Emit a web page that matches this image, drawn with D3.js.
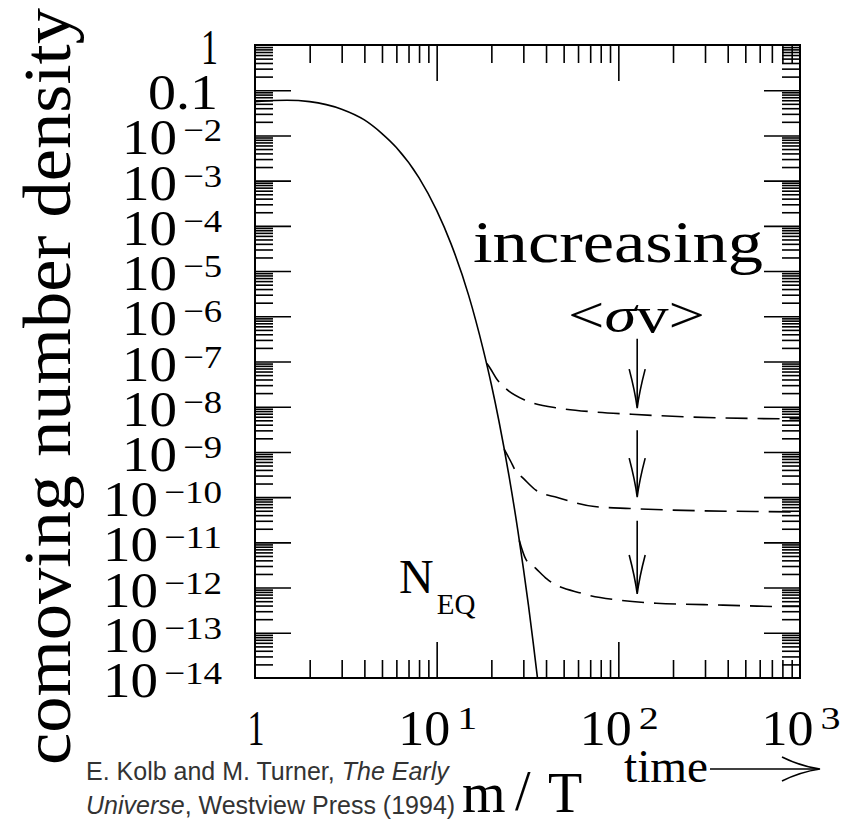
<!DOCTYPE html>
<html>
<head>
<meta charset="utf-8">
<script src="https://cdn.jsdelivr.net/npm/d3@7"></script>
<style>
  body { margin: 0; background: #fff; }
  svg { display: block; }
</style>
</head>
<body>
<svg id="chart" width="852" height="826"></svg>
<script>
// ---- data (m/T, comoving number density) ----
const eqMT = [1, 1.5, 2, 3, 4, 5, 6, 8, 10, 12, 15, 18, 20, 22, 25, 28, 30, 32, 34, 36];
const eqN  = [5.6e-2, 6.0e-2, 5.6e-2, 3.8e-2, 2.2e-2, 1.1e-2, 5.4e-3, 1.15e-3, 2.2e-4, 4.0e-5,
              2.9e-6, 1.9e-7, 3.1e-8, 4.9e-9, 3.0e-10, 1.8e-11, 2.7e-12, 4.1e-13, 6.0e-14, 9.0e-15];

const fo1MT = [18.9, 19.7, 21.5, 23.8, 30.6, 48.8, 76, 118.5, 228, 530, 1000];
const fo1N  = [9.0e-8, 7.1e-8, 4.0e-8, 2.6e-8, 1.4e-8, 9.1e-9, 7.6e-9, 6.8e-9, 6.0e-9, 5.5e-9, 5.4e-9];

const fo2MT = [23.5, 25.5, 27.1, 30, 35.4, 46.2, 73.9, 115.6, 276.6, 600, 1000];
const fo2N  = [1.15e-9, 6.3e-10, 3.9e-10, 2.6e-10, 1.4e-10, 9.8e-11, 6.2e-11, 5.6e-11, 5.0e-11, 4.8e-11, 4.7e-11];

const fo3MT = [28.5, 30.9, 35, 40.4, 63.2, 103.4, 161.8, 378, 808, 1000];
const fo3N  = [1.1e-11, 4.3e-12, 2.7e-12, 1.55e-12, 7.4e-13, 5.2e-13, 4.5e-13, 4.1e-13, 3.8e-13, 3.8e-13];

// "increasing <σv>" arrows: [top, tip] at m/T = 127
const arrowMT = 127;
const arrowTop = [3.2e-7, 3.0e-9, 3.0e-11];
const arrowTip = [9.3e-9, 1.0e-10, 7.2e-13];

// tick labels
const xTickValues = [1, 10, 100, 1000];
const xTickBase   = ["1", "10", "10", "10"];
const xTickSup    = ["", "1", "2", "3"];

const yTickValues = [1, 1e-1, 1e-2, 1e-3, 1e-4, 1e-5, 1e-6, 1e-7, 1e-8, 1e-9, 1e-10, 1e-11, 1e-12, 1e-13, 1e-14];
const yTickBase   = ["1", "0.1", "10", "10", "10", "10", "10", "10", "10", "10", "10", "10", "10", "10", "10"];
const yTickSup    = ["", "", "−2", "−3", "−4", "−5", "−6", "−7", "−8", "−9", "−10", "−11", "−12", "−13", "−14"];

// ---- layout ----
const plotL = 255, plotR = 800, plotT = 45, plotB = 678;
const serif = "'Liberation Serif', 'Times New Roman', serif";

const svg = d3.select("#chart");

const x = d3.scaleLog().domain([1, 1000]).range([plotL, plotR]);
const y = d3.scaleLog().domain([1e-14, 1]).range([plotB, plotT]);

// minor / major tick values
const xMajor = [10, 100];
const xMinor = [];
[1, 10, 100].forEach(d => { for (let k = 2; k <= 9; k++) xMinor.push(d * k); });
const yMajor = yTickValues.slice(1, -1);
const yMinor = [];
yTickValues.slice(1).forEach(d => { for (let k = 2; k <= 9; k++) yMinor.push(d * k); });

function styleAxis(g) {
  g.select(".domain").remove();
  g.selectAll(".tick line").attr("stroke", "#000").attr("stroke-width", 1.6);
}

const axes = svg.append("g");
[[xMajor, 36], [xMinor, 18]].forEach(([vals, len]) => {
  axes.append("g").attr("transform", `translate(0,${plotB})`)
    .call(d3.axisBottom(x).tickValues(vals).tickSize(-len).tickFormat("")).call(styleAxis);
  axes.append("g").attr("transform", `translate(0,${plotT})`)
    .call(d3.axisTop(x).tickValues(vals).tickSize(-len).tickFormat("")).call(styleAxis);
});
[[yMajor, 36], [yMinor, 18]].forEach(([vals, len]) => {
  axes.append("g").attr("transform", `translate(${plotL},0)`)
    .call(d3.axisLeft(y).tickValues(vals).tickSize(-len).tickFormat("")).call(styleAxis);
  axes.append("g").attr("transform", `translate(${plotR},0)`)
    .call(d3.axisRight(y).tickValues(vals).tickSize(-len).tickFormat("")).call(styleAxis);
});

// frame
svg.append("rect")
  .attr("x", plotL).attr("y", plotT)
  .attr("width", plotR - plotL).attr("height", plotB - plotT)
  .attr("fill", "none").attr("stroke", "#000").attr("stroke-width", 2);

// clip
svg.append("clipPath").attr("id", "plotClip")
  .append("rect").attr("x", plotL).attr("y", plotT)
  .attr("width", plotR - plotL).attr("height", plotB - plotT);

const line = d3.line()
  .x(d => x(d[0]))
  .y(d => y(d[1]))
  .curve(d3.curveMonotoneX);

const plot = svg.append("g").attr("clip-path", "url(#plotClip)");

plot.append("path")
  .datum(d3.zip(eqMT, eqN))
  .attr("d", line)
  .attr("fill", "none").attr("stroke", "#000").attr("stroke-width", 1.6);

[[fo1MT, fo1N], [fo2MT, fo2N], [fo3MT, fo3N]].forEach(([mt, n]) => {
  plot.append("path")
    .datum(d3.zip(mt, n))
    .attr("d", line)
    .attr("fill", "none").attr("stroke", "#000").attr("stroke-width", 1.6)
    .attr("stroke-dasharray", "22,10");
});

// down arrows
arrowTop.forEach((t, i) => {
  const ax = x(arrowMT), y0 = y(t), y1 = y(arrowTip[i]);
  plot.append("line")
    .attr("x1", ax).attr("x2", ax).attr("y1", y0).attr("y2", y1 - 2)
    .attr("stroke", "#000").attr("stroke-width", 1.6);
  plot.append("path")
    .attr("d", `M${ax - 8},${y1 - 39} Q${ax - 2},${y1 - 16} ${ax},${y1} Q${ax + 2},${y1 - 16} ${ax + 8},${y1 - 39}`)
    .attr("fill", "none").attr("stroke", "#000").attr("stroke-width", 1.6);
});

// ---- text ----
// base + superscript drawn as two texts so their widths can match the figure
function powLabel(g, px, py, anchor, base, sup, o) {
  const supW = sup ? o.supLead * (sup.startsWith("−") ? 1 : 0) + o.supDigit * sup.replace("−", "").length : 0;
  const baseW = o.baseW[base];
  const total = baseW + (sup ? o.gap + supW : 0);
  const start = anchor === "end" ? px - total : px - total / 2;
  g.append("text")
    .attr("x", start).attr("y", py)
    .attr("font-family", serif).attr("font-size", o.mainSize)
    .attr("textLength", baseW).attr("lengthAdjust", "spacingAndGlyphs")
    .text(base);
  if (sup) {
    g.append("text")
      .attr("x", start + baseW + o.gap).attr("y", py + o.supDy)
      .attr("font-family", serif).attr("font-size", o.supSize)
      .attr("textLength", supW).attr("lengthAdjust", "spacingAndGlyphs")
      .text(sup);
  }
}

const labels = svg.append("g").attr("fill", "#000");
const yOpt = { mainSize: 51, supSize: 32, supDy: -13, gap: 6, supLead: 20, supDigit: 19,
               baseW: { "1": 17, "0.1": 70, "10": 55 } };
yTickValues.forEach((v, i) => {
  const px = yTickSup[i] ? 222 : 218;
  powLabel(labels, px, y(v) + 19, "end", yTickBase[i], yTickSup[i], yOpt);
});
const xOpt = { mainSize: 51, supSize: 32, supDy: -16, gap: 7, supLead: 0, supDigit: 20,
               baseW: { "1": 17, "10": 52 } };
xTickValues.forEach((v, i) => {
  powLabel(labels, x(v) + 1, 745, "middle", xTickBase[i], xTickSup[i], xOpt);
});

// y axis title
svg.append("text")
  .attr("transform", "translate(70,765) rotate(-90)")
  .attr("font-family", serif)
  .attr("font-size", 68)
  .attr("textLength", 757)
  .attr("lengthAdjust", "spacingAndGlyphs")
  .text("comoving number density");

// annotations
svg.append("text")
  .attr("x", 473).attr("y", 262)
  .attr("font-family", serif).attr("font-size", 60)
  .attr("textLength", 290).attr("lengthAdjust", "spacingAndGlyphs")
  .text("increasing");

svg.append("text")
  .attr("x", 568).attr("y", 332)
  .attr("font-family", serif).attr("font-size", 50)
  .attr("textLength", 137).attr("lengthAdjust", "spacingAndGlyphs")
  .html("&lt;<tspan font-style='italic'>σ</tspan>v&gt;");

const neq = svg.append("text")
  .attr("x", 399).attr("y", 593)
  .attr("font-family", serif).attr("fill", "#000");
neq.append("tspan").attr("font-size", 48).text("N");
neq.append("tspan").attr("font-size", 29).attr("dx", 3).attr("dy", 21).text("EQ");

// time arrow
svg.append("text")
  .attr("x", 624).attr("y", 782)
  .attr("font-family", serif).attr("font-size", 46)
  .attr("textLength", 84).attr("lengthAdjust", "spacingAndGlyphs")
  .text("time");
svg.append("line")
  .attr("x1", 710).attr("x2", 819).attr("y1", 769).attr("y2", 769)
  .attr("stroke", "#000").attr("stroke-width", 1.6);
svg.append("path")
  .attr("d", "M782,757 Q800,766 820,769 Q800,772 782,781")
  .attr("fill", "none").attr("stroke", "#000").attr("stroke-width", 1.6);

// m/T
const mt = svg.append("text")
  .attr("y", 812)
  .attr("font-family", serif).attr("font-size", 56).attr("fill", "#000");
mt.append("tspan").attr("x", 462).text("m");
mt.append("tspan").attr("x", 515).attr("font-size", 56).attr("dy", -2).text("/");
mt.append("tspan").attr("x", 548).attr("dy", 2).text("T");

// citation
const cite = svg.append("g")
  .attr("font-family", "'Liberation Sans', Arial, sans-serif")
  .attr("font-size", 25).attr("fill", "#333");
const c1 = cite.append("text").attr("x", 86).attr("y", 780);
c1.append("tspan").text("E. Kolb and M. Turner, ");
c1.append("tspan").attr("font-style", "italic").text("The Early");
const c2 = cite.append("text").attr("x", 86).attr("y", 814);
c2.append("tspan").attr("font-style", "italic").text("Universe");
c2.append("tspan").text(", Westview Press (1994)");
</script>
</body>
</html>
